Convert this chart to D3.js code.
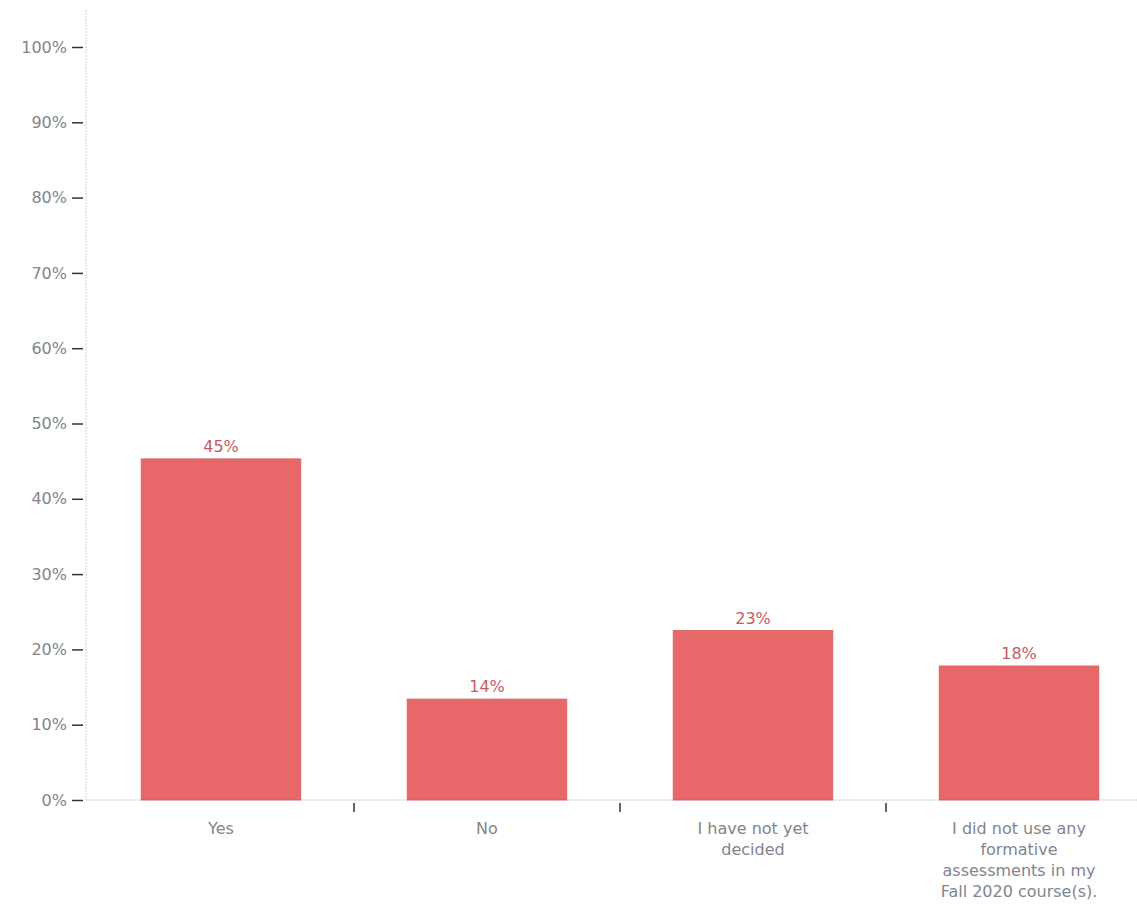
<!DOCTYPE html>
<meta charset="utf-8">
<style>
body { margin: 0; background: #fff; }
text { font-family: "DejaVu Sans", sans-serif; }
.axis text { fill: #80858e; font-size: 16px; }
.value { fill: #c45c66; font-size: 16px; text-anchor: middle; }
</style>
<svg width="1137" height="918"></svg>
<script src="https://d3js.org/d3.v7.min.js"></script>
<script>

var categories = ["Yes", "No", "I have not yet decided", "I did not use any formative assessments in my Fall 2020 course(s)."];
var labelLines = [["Yes"], ["No"], ["I have not yet", "decided"], ["I did not use any", "formative", "assessments in my", "Fall 2020 course(s)."]];
var values = [45.3, 13.4, 22.5, 17.8];
var valueLabels = ["45%", "14%", "23%", "18%"];
var yTicks = [0, 10, 20, 30, 40, 50, 60, 70, 80, 90, 100];

var svg = d3.select("svg");

var x = d3.scaleBand()
    .domain(categories)
    .range([88, 1152])
    .paddingInner(0.4)
    .paddingOuter(0.2);

var y = d3.scaleLinear()
    .domain([0, 100])
    .range([800, 47]);

// y axis
var yAxis = svg.append("g")
    .attr("class", "axis")
    .attr("transform", "translate(83,0)")
    .call(d3.axisLeft(y).tickValues(yTicks).tickFormat(function(d) { return d + "%"; }).tickSize(11).tickPadding(5));
yAxis.select(".domain").remove();
yAxis.selectAll(".tick line").attr("stroke", "#333").attr("stroke-width", 1.5);

svg.append("line")
    .attr("x1", 86).attr("x2", 86)
    .attr("y1", 10).attr("y2", 800)
    .attr("stroke", "#c9d3e0")
    .attr("stroke-dasharray", "2,1");

// baseline
svg.append("line")
    .attr("x1", 86).attr("x2", 1137)
    .attr("y1", 800).attr("y2", 800)
    .attr("stroke", "#c9ccd2")
    .attr("stroke-dasharray", "3,1");

// x ticks at band boundaries
var gap = x.paddingInner() * x.bandwidth() / (1 - x.paddingInner());
var bounds = categories.slice(1).map(function(c) { return x(c) - gap / 2; });
svg.append("g").selectAll("line")
    .data(bounds)
    .enter().append("line")
      .attr("x1", function(d) { return d; })
      .attr("x2", function(d) { return d; })
      .attr("y1", 803).attr("y2", 812)
      .attr("stroke", "#333")
      .attr("stroke-width", 1.5);

// bars
svg.append("g").selectAll("rect")
    .data(values)
    .enter().append("rect")
      .attr("x", function(d, i) { return x(categories[i]); })
      .attr("y", function(d) { return y(d); })
      .attr("width", x.bandwidth())
      .attr("height", function(d) { return y(0) - y(d); })
      .attr("fill", "#e8686a")
      .attr("stroke", "#d35c5e")
      .attr("stroke-width", 0.8);

svg.append("g").selectAll("text")
    .data(values)
    .enter().append("text")
      .attr("class", "value")
      .attr("x", function(d, i) { return x(categories[i]) + x.bandwidth() / 2; })
      .attr("y", function(d) { return y(d) - 7; })
      .text(function(d, i) { return valueLabels[i]; });

// category labels
var lab = svg.append("g").attr("class", "axis").selectAll("text")
    .data(categories)
    .enter().append("text")
      .attr("x", function(d) { return x(d) + x.bandwidth() / 2; })
      .attr("y", 834)
      .attr("text-anchor", "middle");
lab.each(function(d, i) {
  var t = d3.select(this);
  labelLines[i].forEach(function(line, j) {
    t.append("tspan")
      .attr("x", x(d) + x.bandwidth() / 2)
      .attr("dy", j === 0 ? 0 : 21)
      .text(line);
  });
});

</script>
